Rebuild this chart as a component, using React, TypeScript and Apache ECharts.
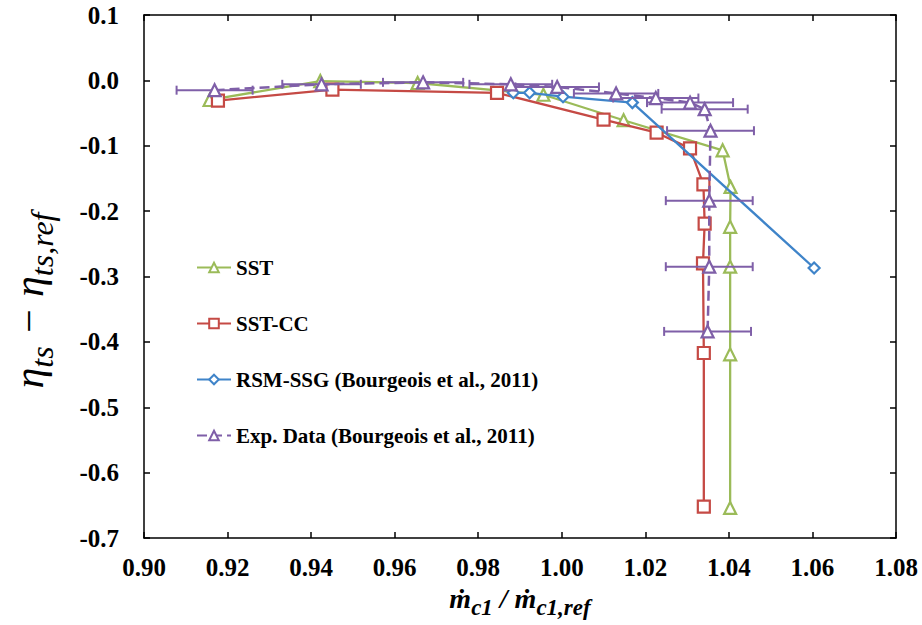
import React, { useEffect, useRef } from "react";
import * as echarts from "echarts";

// ---- data ----
const sstX = [0.9157, 0.9422, 0.9655, 0.9956, 1.0148, 1.0385, 1.0404, 1.0403, 1.0403, 1.0403, 1.0403];
const sstY = [-0.030, -0.001, -0.004, -0.022, -0.061, -0.107, -0.163, -0.224, -0.285, -0.419, -0.654];

const sstccX = [0.9177, 0.9451, 0.9845, 1.0100, 1.0227, 1.0307, 1.0339, 1.0342, 1.0338, 1.0340, 1.0340];
const sstccY = [-0.031, -0.014, -0.019, -0.060, -0.080, -0.104, -0.159, -0.219, -0.280, -0.417, -0.652];

const rsmX = [0.9884, 0.9923, 1.0003, 1.0169, 1.0604];
const rsmY = [-0.019, -0.019, -0.025, -0.034, -0.287];

const expX = [0.9169, 0.9425, 0.9668, 0.9878, 0.9989, 1.0130, 1.0225, 1.0307, 1.0342, 1.0356, 1.0353, 1.0353, 1.0349];
const expY = [-0.015, -0.006, -0.003, -0.006, -0.010, -0.020, -0.027, -0.034, -0.044, -0.077, -0.184, -0.285, -0.384];
const expErr = [0.0091, 0.0094, 0.0096, 0.0099, 0.0100, 0.0101, 0.0102, 0.0103, 0.0103, 0.0104, 0.0104, 0.0104, 0.0104];

const seriesNames = [
  "SST",
  "SST-CC",
  "RSM-SSG (Bourgeois et al., 2011)",
  "Exp. Data (Bourgeois et al., 2011)",
];

const xMin = 0.9;
const xMax = 1.08;
const xStep = 0.02;
const yMin = -0.7;
const yMax = 0.1;
const yStep = 0.1;

const GREEN = "#9bbb59";
const RED = "#c54a45";
const BLUE = "#3f84c9";
const PURPLE = "#7f5fa8";
const FONT = "Liberation Serif, DejaVu Serif, serif";

const pairs = (xs: number[], ys: number[]) => xs.map((x, i) => [x, ys[i]]);

export default function App() {
  const ref = useRef<HTMLDivElement>(null);

  useEffect(() => {
    if (!ref.current) return;
    const chart = echarts.init(ref.current, undefined, { renderer: "svg" });

    const axisLine = { show: true, onZero: false, lineStyle: { color: "#000", width: 1.5 } };
    const axisTick = { show: true, inside: true, length: 6, lineStyle: { color: "#000", width: 1.5 } };
    const tickLabel = { fontFamily: FONT, fontWeight: "bold" as const, fontSize: 25, color: "#000" };

    const marker = (color: string) => ({ color: "#fff", borderColor: color, borderWidth: 2.2 });

    chart.setOption({
      animation: false,
      backgroundColor: "#fff",
      grid: { left: 126, top: 15, width: 770, height: 523, containLabel: false },
      legend: {
        orient: "vertical",
        left: 191,
        top: 252,
        itemWidth: 34,
        itemHeight: 12,
        itemGap: 35,
        data: seriesNames,
        textStyle: { fontFamily: FONT, fontWeight: "bold", fontSize: 21, color: "#000" },
      },
      xAxis: [
        {
          type: "value",
          position: "bottom",
          min: xMin,
          max: xMax,
          interval: xStep,
          axisLine,
          axisTick,
          splitLine: { show: false },
          axisLabel: { ...tickLabel, margin: 17, formatter: (v: number) => v.toFixed(2) },
          name: "{m|ṁ}{s|c1}{m| / ṁ}{s|c1,ref}",
          nameLocation: "middle",
          nameGap: 43,
          nameTextStyle: {
            rich: {
              m: { fontFamily: FONT, fontSize: 28, fontStyle: "italic", fontWeight: "bold", color: "#000", lineHeight: 30, padding: [0, 0, 6, 0], verticalAlign: "bottom" },
              s: { fontFamily: FONT, fontSize: 23, fontStyle: "italic", fontWeight: "bold", color: "#000", lineHeight: 25, verticalAlign: "bottom" },
            },
          },
        },
        {
          type: "value",
          position: "top",
          min: xMin,
          max: xMax,
          interval: xStep,
          axisLine,
          axisTick,
          splitLine: { show: false },
          axisLabel: { show: false },
        },
      ],
      yAxis: [
        {
          type: "value",
          position: "left",
          min: yMin,
          max: yMax,
          interval: yStep,
          axisLine,
          axisTick,
          splitLine: { show: false },
          axisLabel: { ...tickLabel, margin: 25, formatter: (v: number) => v.toFixed(1) },
          name: "{e|η}{s|ts}{e| − η}{s|ts,ref}",
          nameLocation: "middle",
          nameRotate: 90,
          nameGap: 86,
          nameTextStyle: {
            padding: [0, 48, 0, 0],
            rich: {
              e: { fontFamily: FONT, fontSize: 42, fontStyle: "italic", color: "#000", lineHeight: 44, padding: [0, 0, 8, 0], verticalAlign: "bottom" },
              s: { fontFamily: FONT, fontSize: 32, fontStyle: "italic", color: "#000", lineHeight: 34, verticalAlign: "bottom" },
            },
          },
        },
        {
          type: "value",
          position: "right",
          min: yMin,
          max: yMax,
          interval: yStep,
          axisLine,
          axisTick,
          splitLine: { show: false },
          axisLabel: { show: false },
        },
      ],
      series: [
        {
          name: seriesNames[0],
          type: "line",
          data: pairs(sstX, sstY),
          symbol: "triangle",
          symbolSize: 12,
          showAllSymbol: true,
          lineStyle: { color: GREEN, width: 2.3 },
          itemStyle: marker(GREEN),
          z: 3,
        },
        {
          name: seriesNames[1],
          type: "line",
          data: pairs(sstccX, sstccY),
          symbol: "rect",
          symbolSize: 12,
          showAllSymbol: true,
          lineStyle: { color: RED, width: 2.3 },
          itemStyle: marker(RED),
          z: 4,
        },
        {
          name: seriesNames[2],
          type: "line",
          data: pairs(rsmX, rsmY),
          symbol: "diamond",
          symbolSize: 11,
          showAllSymbol: true,
          lineStyle: { color: BLUE, width: 2.3 },
          itemStyle: marker(BLUE),
          z: 5,
        },
        {
          name: "errbars",
          type: "custom",
          data: expX.map((x, i) => [x, expY[i], expErr[i]]),
          encode: { x: 0, y: 1 },
          z: 6,
          renderItem: (params: any, api: any) => {
            const x = api.value(0);
            const y = api.value(1);
            const e = api.value(2);
            const a = api.coord([x - e, y]);
            const b = api.coord([x + e, y]);
            const cap = 4.5;
            const st = { stroke: PURPLE, lineWidth: 2 };
            return {
              type: "group",
              children: [
                { type: "line", shape: { x1: a[0], y1: a[1], x2: b[0], y2: b[1] }, style: st },
                { type: "line", shape: { x1: a[0], y1: a[1] - cap, x2: a[0], y2: a[1] + cap }, style: st },
                { type: "line", shape: { x1: b[0], y1: b[1] - cap, x2: b[0], y2: b[1] + cap }, style: st },
              ],
            };
          },
        },
        {
          name: seriesNames[3],
          type: "line",
          data: pairs(expX, expY),
          symbol: "triangle",
          symbolSize: 12,
          showAllSymbol: true,
          lineStyle: { color: PURPLE, width: 2.5, type: [10, 5] },
          itemStyle: marker(PURPLE),
          z: 7,
        },
      ],
    });

    return () => chart.dispose();
  }, []);

  return <div ref={ref} style={{ width: 922, height: 625, position: "absolute", left: 0, top: 0 }} />;
}
